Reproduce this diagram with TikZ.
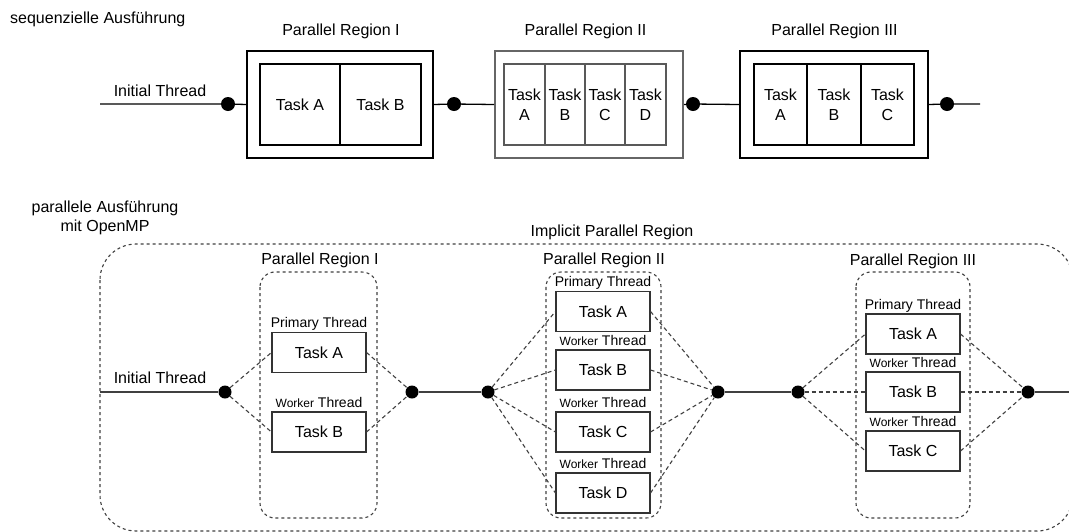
\documentclass[tikz,border=0pt]{standalone}
\usepackage{fontspec}
\setmainfont{Liberation Sans}
\begin{document}
\begin{tikzpicture}[x=1pt,y=-1pt,
  txt/.style={inner sep=0pt, font=\fontsize{16}{19}\selectfont},
  smalltxt/.style={inner sep=0pt, anchor=base, font=\fontsize{14}{16}\selectfont},
  cell/.style={draw=black, line width=1.2pt, inner sep=0pt, align=center, font=\fontsize{16}{20}\selectfont},
  outerbox/.style={draw=black, line width=1.3pt, inner sep=0pt},
  graybox/.style={draw=black!60, line width=2pt, inner sep=0pt},
  graycell/.style={cell, draw=black!65, line width=1.5pt},
  dotnode/.style={circle, fill=black, inner sep=0pt, minimum size=14pt},
  task/.style={draw=black!80, line width=1.1pt, inner sep=0pt, minimum width=94pt, minimum height=40pt, font=\fontsize{16}{19}\selectfont},
  region/.style={draw=black!75, line width=1.1pt, dash pattern=on 3pt off 3pt, rounded corners=15pt},
  conn/.style={draw=black!75, line width=1.1pt, dash pattern=on 4pt off 3pt},
  solid line/.style={draw=black!75, line width=1.5pt}
]
\useasboundingbox (0,0) rectangle (1069,531);
\clip (0,0) rectangle (1069,531);

% ---------- top: sequential ----------
\node[txt, anchor=west] (seq) at (10,19) {sequenzielle Ausführung};

\node[txt] (t1) at (341,31.5) {Parallel Region I};
\node[txt] (t2) at (585.5,31.5) {Parallel Region II};
\node[txt] (t3) at (834.5,31.5) {Parallel Region III};

\node[outerbox, minimum width=186pt, minimum height=107pt] (R1) at (340,104.5) {};
\node[cell, minimum width=80pt, minimum height=81pt] (R1a) at (300,104.5) {Task A};
\node[cell, minimum width=81pt, minimum height=81pt] (R1b) at (380.5,104.5) {Task B};

\node[graybox, minimum width=188pt, minimum height=107pt] (R2) at (589,104.5) {};
\node[graycell, minimum width=41pt, minimum height=81pt] (R2a) at (524.5,104.5) {Task\\A};
\node[graycell, minimum width=40pt, minimum height=81pt] (R2b) at (565,104.5) {Task\\B};
\node[graycell, minimum width=40pt, minimum height=81pt] (R2c) at (605,104.5) {Task\\C};
\node[graycell, minimum width=41pt, minimum height=81pt] (R2d) at (645.5,104.5) {Task\\D};

\node[outerbox, minimum width=188pt, minimum height=107pt] (R3) at (834,104.5) {};
\node[cell, minimum width=53pt, minimum height=81pt] (R3a) at (780.5,104.5) {Task\\A};
\node[cell, minimum width=54pt, minimum height=81pt] (R3b) at (834,104.5) {Task\\B};
\node[cell, minimum width=53pt, minimum height=81pt] (R3c) at (887.5,104.5) {Task\\C};

\coordinate (s0) at (100,104);
\coordinate (e0) at (980,104);
\node[dotnode] (d0) at (228,104) {};
\node[dotnode] (d1) at (454,104) {};
\node[dotnode] (d2) at (693,104) {};
\node[dotnode] (d3) at (947,104) {};
\node[txt] (it0) at (160,91) {Initial Thread};

\draw[black, line width=1.3pt] (s0) -- (d0) -- (R1.west);
\draw[black, line width=1.3pt] (R1.east) -- (d1) -- (R2.west);
\draw[black, line width=1.3pt] (R2.east) -- (d2) -- (R3.west);
\draw[black, line width=1.3pt] (R3.east) -- (d3) -- (e0);

% ---------- bottom: parallel ----------
\node[txt, align=center] (par) at (105,218) {parallele Ausführung\\mit OpenMP};
\node[txt] (impl) at (612,232) {Implicit Parallel Region};
\draw[region, rounded corners=36pt] (100,244) rectangle (1073,531);

\draw[region] (260,272) rectangle (377,518);
\draw[region] (546,272) rectangle (661,518);
\draw[region] (856,272) rectangle (970,518);
\node[txt] (p1) at (320,260) {Parallel Region I};
\node[txt] (p2) at (604,260) {Parallel Region II};
\node[txt] (p3) at (913,261) {Parallel Region III};

% tasks region I
\node[task] (a1) at (319,352.5) {Task A};
\node[task] (b1) at (319,432) {Task B};
% tasks region II
\node[task] (a2) at (603,311.5) {Task A};
\node[task] (b2) at (603,370) {Task B};
\node[task] (c2) at (603,432) {Task C};
\node[task] (dd2) at (603,493) {Task D};
% tasks region III
\node[task] (a3) at (913,334) {Task A};
\node[task] (b3) at (913,392) {Task B};
\node[task] (c3) at (913,451) {Task C};

% thread labels
\newcommand{\wt}{{\fontsize{12}{14}\selectfont Worker} Thread}
\node[smalltxt] (la1) at ([yshift=4pt]a1.north) {Primary Thread};
\node[smalltxt] (lb1) at ([yshift=4pt]b1.north) {\wt};
\node[smalltxt] (la2) at ([yshift=4pt]a2.north) {Primary Thread};
\node[smalltxt] (lb2) at ([yshift=4pt]b2.north) {\wt};
\node[smalltxt] (lc2) at ([yshift=4pt]c2.north) {\wt};
\node[smalltxt] (ld2) at ([yshift=4pt]dd2.north) {\wt};
\node[smalltxt] (la3) at ([yshift=4pt]a3.north) {Primary Thread};
\node[smalltxt] (lb3) at ([yshift=4pt]b3.north) {\wt};
\node[smalltxt] (lc3) at ([yshift=4pt]c3.north) {\wt};

% dots
\coordinate (s1) at (100,392);
\coordinate (e1) at (1069,392);
\node[dotnode, minimum size=13pt] (q0) at (225,392) {};
\node[dotnode, minimum size=13pt] (q1) at (412,392) {};
\node[dotnode, minimum size=13pt] (q2) at (488,392) {};
\node[dotnode, minimum size=13pt] (q3) at (718,392) {};
\node[dotnode, minimum size=13pt] (q4) at (798,392) {};
\node[dotnode, minimum size=13pt] (q5) at (1028,392) {};
\node[txt] (it1) at (160,378) {Initial Thread};

\draw[solid line] (s1) -- (q0);
\draw[solid line] (q1) -- (q2);
\draw[solid line] (q3) -- (q4);
\draw[solid line] (q5) -- (e1);

% dashed connectors
\foreach \t in {a1,b1} {
  \draw[conn] (q0) -- (\t.west);
  \draw[conn] (\t.east) -- (q1);
}
\foreach \t in {a2,b2,c2,dd2} {
  \draw[conn] (q2) -- (\t.west);
  \draw[conn] (\t.east) -- (q3);
}
\foreach \t in {a3,b3,c3} {
  \draw[conn] (q4) -- (\t.west);
  \draw[conn] (\t.east) -- (q5);
}
\end{tikzpicture}
\end{document}
